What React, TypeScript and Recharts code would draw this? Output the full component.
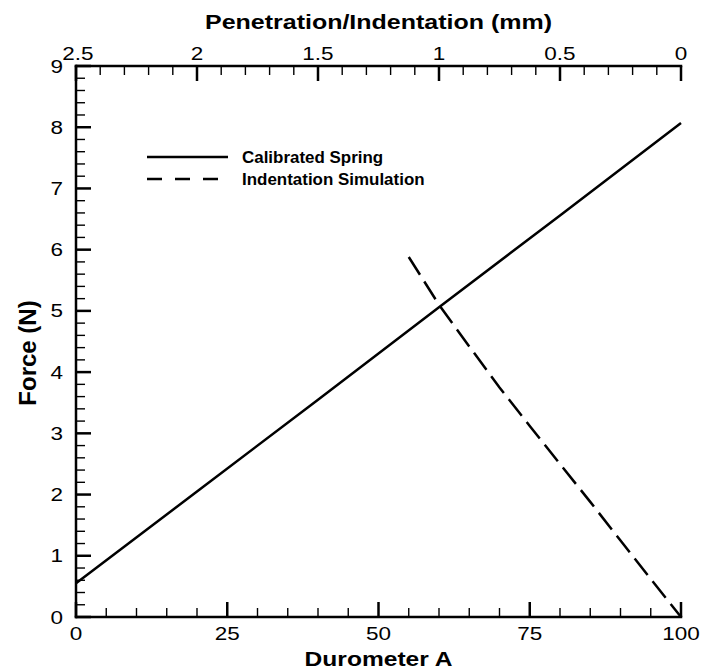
import React from "react";
import { LineChart, Line, XAxis, YAxis, Legend, Label } from "recharts";

// values
const springDurometer = [0, 20, 40, 60, 80, 100];
const springForce = [0.55, 2.05, 3.55, 5.06, 6.56, 8.07];

const simDurometer = [55, 60, 65, 70, 75, 80, 85, 90, 95, 100];
const simForce = [5.88, 5.1, 4.42, 3.75, 3.12, 2.5, 1.88, 1.25, 0.62, 0];

const durometerLabels = [0, 25, 50, 75, 100];
const durometerTicks = Array.from({ length: 21 }, (_, i) => i * 5);
const penetrationLabels = [2.5, 2, 1.5, 1, 0.5, 0];
const penetrationTicks = Array.from({ length: 26 }, (_, i) => i / 10);
const forceLabels = [0, 1, 2, 3, 4, 5, 6, 7, 8, 9];
const forceTicks = Array.from({ length: 46 }, (_, i) => i / 5);

const seriesNames = ["Calibrated Spring", "Indentation Simulation"];

const springData = springDurometer.map((d, i) => ({ durometer: d, force: springForce[i] }));
const simData = simDurometer.map((d, i) => ({ durometer: d, force: simForce[i] }));
// empty series, only there so the top axis gets its ticks
const penetrationData = penetrationLabels.map((p) => ({ penetration: p }));

const FONT = "'Liberation Sans', Arial, Helvetica, sans-serif";
const MAJOR = 15;
const MINOR = 9;

const isLabel = (list: number[], v: number) => list.some((l) => Math.abs(l - v) < 1e-6);

const SText = ({ x, y, sx = 1, anchor = "middle", size, bold = false, children }: any) => (
  <text
    transform={`translate(${x} ${y}) scale(${sx} 1)`}
    textAnchor={anchor}
    fontSize={size}
    fontWeight={bold ? "bold" : "normal"}
    fontFamily={FONT}
    fill="#000"
  >
    {children}
  </text>
);

const BottomTick = ({ x, y, payload }: any) => {
  const major = isLabel(durometerLabels, payload.value);
  return (
    <g>
      <line x1={x} x2={x} y1={y} y2={y - (major ? MAJOR : MINOR)} stroke="#000" strokeWidth={major ? 2.5 : 1.4} />
      {major && (
        <SText x={x} y={y + 23} sx={1.25} size={18}>
          {payload.value}
        </SText>
      )}
    </g>
  );
};

const TopTick = ({ x, y, payload }: any) => {
  const v = payload.value;
  const major = isLabel(penetrationLabels, v);
  // the 2.5 label sits a little right of its tick in the original
  const shift = Math.abs(v - 2.5) < 1e-6 ? 2 : 0;
  return (
    <g>
      <line x1={x} x2={x} y1={y} y2={y + (major ? MAJOR : MINOR)} stroke="#000" strokeWidth={major ? 2.5 : 1.4} />
      {major && (
        <SText x={x + shift} y={y - 6} sx={1.25} size={18}>
          {String(Math.round(v * 10) / 10)}
        </SText>
      )}
    </g>
  );
};

const LeftTick = ({ x, y, payload }: any) => {
  const major = isLabel(forceLabels, payload.value);
  return (
    <g>
      <line x1={x} x2={x + (major ? MAJOR : MINOR)} y1={y} y2={y} stroke="#000" strokeWidth={major ? 2.5 : 1.4} />
      {major && (
        <SText x={x - 13} y={y + 6.5} sx={1.25} size={18} anchor="end">
          {Math.round(payload.value)}
        </SText>
      )}
    </g>
  );
};

const renderLegend = () => (
  <svg width={320} height={48} style={{ display: "block" }}>
    {seriesNames.map((name, i) => {
      const y = 12 + i * 22;
      return (
        <g key={name}>
          <line
            x1={0}
            x2={i === 0 ? 81 : 72}
            y1={y}
            y2={y}
            stroke="#000"
            strokeWidth={2.5}
            strokeDasharray={i === 0 ? undefined : "15 13"}
          />
          <SText x={95} y={y + 5.5} sx={1.06} size={16} bold anchor="start">
            {name}
          </SText>
        </g>
      );
    })}
  </svg>
);

const axisStroke = { stroke: "#000", strokeWidth: 2.5, strokeLinecap: "square" as const };

export default function App() {
  return (
    <div style={{ position: "fixed", left: 0, top: 0, width: 701, height: 671, background: "#fff" }}>
      <LineChart width={701} height={671} margin={{ top: 36, right: 20, bottom: 24, left: 16 }}>
        <XAxis
          dataKey="durometer"
          type="number"
          domain={[0, 100]}
          ticks={durometerTicks}
          interval={0}
          tickSize={0}
          tickMargin={0}
          tickLine={false}
          axisLine={axisStroke}
          tick={(p: any) => <BottomTick {...p} />}
          height={30}
        >
          <Label
            content={(p: any) => (
              <SText x={p.viewBox.x + p.viewBox.width / 2} y={p.viewBox.y + 49} sx={1.17} size={21} bold>
                Durometer A
              </SText>
            )}
          />
        </XAxis>
        <XAxis
          xAxisId="top"
          dataKey="penetration"
          orientation="top"
          type="number"
          domain={[0, 2.5]}
          reversed
          ticks={penetrationTicks}
          interval={0}
          tickSize={0}
          tickMargin={0}
          tickLine={false}
          axisLine={axisStroke}
          tick={(p: any) => <TopTick {...p} />}
          height={30}
        >
          <Label
            content={(p: any) => (
              <SText
                x={p.viewBox.x + p.viewBox.width / 2}
                y={p.viewBox.y + p.viewBox.height - 36.7}
                sx={1.19}
                size={21}
                bold
              >
                Penetration/Indentation (mm)
              </SText>
            )}
          />
        </XAxis>
        <YAxis
          type="number"
          domain={[0, 9]}
          ticks={forceTicks}
          interval={0}
          tickSize={0}
          tickMargin={0}
          tickLine={false}
          axisLine={axisStroke}
          tick={(p: any) => <LeftTick {...p} />}
          width={60}
        >
          <Label
            content={(p: any) => (
              <text
                transform={`translate(${p.viewBox.x + 12} ${p.viewBox.y + p.viewBox.height / 2 + 11.5}) rotate(-90)`}
                textAnchor="middle"
                dy="0.35em"
                fontSize={24}
                fontWeight="bold"
                fontFamily={FONT}
                fill="#000"
              >
                Force (N)
              </text>
            )}
          />
        </YAxis>
        <Legend
          content={renderLegend}
          layout="vertical"
          align="center"
          verticalAlign="middle"
          wrapperStyle={{ position: "absolute", left: 147, top: 145, width: "auto", height: "auto" }}
        />
        <Line
          xAxisId="top"
          data={penetrationData}
          dataKey="none"
          stroke="none"
          legendType="none"
          dot={false}
          activeDot={false}
          isAnimationActive={false}
        />
        <Line
          data={springData}
          dataKey="force"
          name={seriesNames[0]}
          type="linear"
          stroke="#000"
          strokeWidth={2.5}
          dot={false}
          activeDot={false}
          isAnimationActive={false}
        />
        <Line
          data={simData}
          dataKey="force"
          name={seriesNames[1]}
          type="linear"
          stroke="#000"
          strokeWidth={2.5}
          strokeDasharray="21 8"
          dot={false}
          activeDot={false}
          isAnimationActive={false}
        />
      </LineChart>
    </div>
  );
}
